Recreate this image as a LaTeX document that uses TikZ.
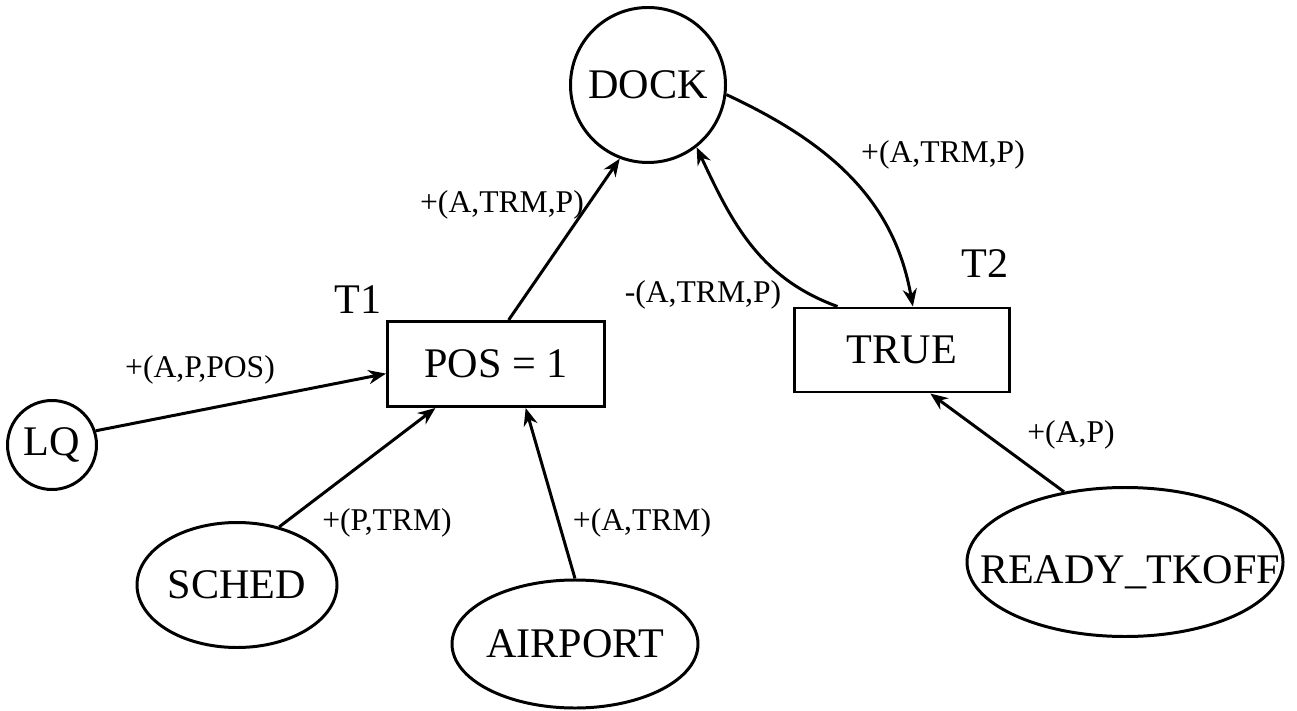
\documentclass[tikz,border=0pt]{standalone}
\usepackage{fontspec}
\setmainfont{Liberation Serif}
\usetikzlibrary{shapes.geometric,arrows.meta}
\begin{document}
\begin{tikzpicture}
	[line width=0.85pt,
	place/.style={circle,draw=black,inner sep=0pt,font=\fontsize{12}{14}\selectfont},
	token/.style={ellipse,draw=black,inner sep=0pt},
	trans/.style={rectangle,draw=black,inner sep=0pt,font=\fontsize{12}{14}\selectfont},
	tname/.style={font=\fontsize{12}{14}\selectfont},
	lbl/.style={font=\fontsize{9}{11}\selectfont},
	arc/.style={-{Stealth[length=5pt,width=4pt]}}]
	\useasboundingbox (0,0) rectangle (12.97,7.10);
	\node[place] (dock) at (6.48,6.25) [minimum size=1.55cm] {DOCK};
	\node[trans] (t1) at (4.96,3.46) [minimum width=2.17cm,minimum height=0.85cm] {POS = 1};
	\node[trans] (t2) at (9.02,3.60) [minimum width=2.15cm,minimum height=0.84cm] {TRUE};
	\node[place] (lq) at (0.52,2.65) [minimum size=0.89cm] {LQ};
	\node[token] (sched) at (2.37,1.25) [minimum width=2.00cm,minimum height=1.25cm,
		label={[tname]center:SCHED}] {};
	\node[token] (airport) at (5.75,0.66) [minimum width=2.46cm,minimum height=1.28cm,
		label={[tname]center:AIRPORT}] {};
	\node[token] (ready) at (11.25,1.48) [minimum width=3.16cm,minimum height=1.49cm,
		label={[tname,yshift=-1mm,xshift=0.5mm]center:READY\_TKOFF}] {};

	\node[tname] (n1) at (3.58,4.10) {T1};
	\node[tname] (n2) at (9.85,4.46) {T2};

	\node[lbl] (l1) at (5.02,5.05) {+(A,TRM,P)};
	\node[lbl] (l2) at (9.43,5.55) {+(A,TRM,P)};
	\node[lbl] (l3) at (7.03,4.15) {-(A,TRM,P)};
	\node[lbl] (l4) at (2.00,3.40) {+(A,P,POS)};
	\node[lbl] (l5) at (3.87,1.87) {+(P,TRM)};
	\node[lbl] (l6) at (6.42,1.87) {+(A,TRM)};
	\node[lbl] (l7) at (10.71,2.75) {+(A,P)};

	\foreach \from/\to in {lq.18/t1.185, sched.54/t1.216, airport.north/t1.304,
	t1.74/dock.249, ready.131/t2.303}
	\draw[arc] (\from) -- (\to);
	\draw[arc] (dock.353) to[out=-25,in=100] (t2.76);
	\draw[arc] (t2.146) to[out=160,in=-65] (dock.308);
\end{tikzpicture}
\end{document}
